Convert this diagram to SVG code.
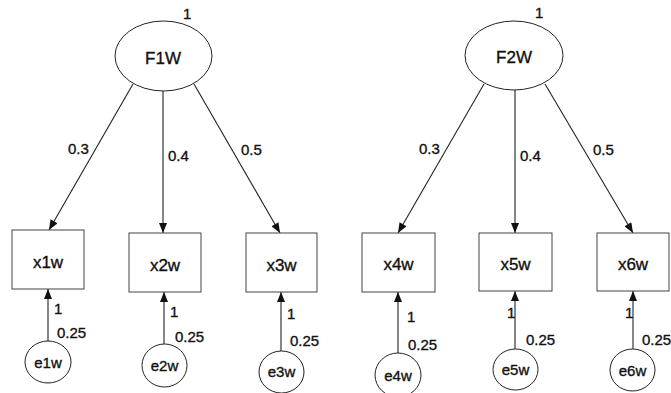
<svg xmlns="http://www.w3.org/2000/svg" width="671" height="393" viewBox="0 0 671 393">
<style>
.n{fill:#fff;stroke:#222;stroke-width:1}
.b{fill:#fff;stroke:#444;stroke-width:1}
.c line{stroke:#222;stroke-width:1.1}
text{font-family:"Liberation Sans",Arial,sans-serif;fill:#111;stroke:#111;stroke-width:0.35}
.lat{font-size:17px;text-anchor:middle}
.obs{font-size:17px;text-anchor:middle}
.err{font-size:15px;text-anchor:middle}
.lab{font-size:15px}
</style>
<defs>
<marker id="ah" viewBox="0 0 10 8" refX="10" refY="4" markerWidth="11" markerHeight="8" markerUnits="userSpaceOnUse" orient="auto">
<path d="M0,0 L10,4 L0,8 Z" fill="#111"/>
</marker>
</defs>
<g class="c" id="connectors">
<line x1="133" y1="84" x2="49" y2="230" marker-end="url(#ah)"/>
<line x1="163" y1="91" x2="163" y2="233" marker-end="url(#ah)"/>
<line x1="194" y1="84" x2="280" y2="233" marker-end="url(#ah)"/>
<line x1="484" y1="84" x2="398" y2="233" marker-end="url(#ah)"/>
<line x1="515" y1="90" x2="515" y2="233" marker-end="url(#ah)"/>
<line x1="545" y1="84" x2="633" y2="233" marker-end="url(#ah)"/>
<line x1="48" y1="341" x2="48" y2="289" marker-end="url(#ah)"/>
<line x1="164" y1="344" x2="164" y2="292" marker-end="url(#ah)"/>
<line x1="281" y1="351" x2="281" y2="292" marker-end="url(#ah)"/>
<line x1="398" y1="353" x2="398" y2="292" marker-end="url(#ah)"/>
<line x1="515" y1="349" x2="515" y2="291" marker-end="url(#ah)"/>
<line x1="633" y1="349" x2="633" y2="291" marker-end="url(#ah)"/>
</g>
<g id="labels" class="lab">
<text x="183" y="19">1</text>
<text x="535" y="18">1</text>
<text x="68" y="154">0.3</text>
<text x="168" y="161">0.4</text>
<text x="241" y="155">0.5</text>
<text x="419" y="154">0.3</text>
<text x="520" y="161">0.4</text>
<text x="593" y="155">0.5</text>
<text x="54" y="314">1</text><text x="57" y="338">0.25</text>
<text x="170" y="317">1</text><text x="175" y="342">0.25</text>
<text x="287" y="319">1</text><text x="290" y="346">0.25</text>
<text x="407" y="322">1</text><text x="408" y="350">0.25</text>
<text x="507" y="318">1</text><text x="526" y="345">0.25</text>
<text x="625" y="318">1</text><text x="642" y="345">0.25</text>
</g>
<g id="F1W"><ellipse class="n" cx="163.5" cy="56" rx="48.5" ry="35"/><text class="lat" x="163" y="64">F1W</text></g>
<g id="F2W"><ellipse class="n" cx="514" cy="55.5" rx="49" ry="34.5"/><text class="lat" x="514" y="63">F2W</text></g>
<g id="x1w"><rect class="b" x="12" y="230" width="72" height="59"/><text class="obs" x="48" y="268">x1w</text></g>
<g id="x2w"><rect class="b" x="129" y="233" width="72" height="59"/><text class="obs" x="165" y="271">x2w</text></g>
<g id="x3w"><rect class="b" x="246" y="233" width="71" height="59"/><text class="obs" x="281.5" y="271">x3w</text></g>
<g id="x4w"><rect class="b" x="362" y="233" width="73" height="59"/><text class="obs" x="398.5" y="270">x4w</text></g>
<g id="x5w"><rect class="b" x="479" y="233" width="73" height="58"/><text class="obs" x="515.5" y="270">x5w</text></g>
<g id="x6w"><rect class="b" x="597" y="233" width="72" height="58"/><text class="obs" x="633" y="270">x6w</text></g>
<g id="e1w"><ellipse class="n" cx="48" cy="362" rx="23" ry="21"/><text class="err" x="48" y="368">e1w</text></g>
<g id="e2w"><ellipse class="n" cx="164.5" cy="365.5" rx="22.5" ry="21.5"/><text class="err" x="164.5" y="371">e2w</text></g>
<g id="e3w"><ellipse class="n" cx="281.5" cy="372" rx="22.5" ry="21"/><text class="err" x="281.5" y="377">e3w</text></g>
<g id="e4w"><ellipse class="n" cx="398" cy="375" rx="23" ry="22"/><text class="err" x="398" y="381">e4w</text></g>
<g id="e5w"><ellipse class="n" cx="515.5" cy="369.5" rx="22.5" ry="20.5"/><text class="err" x="515.5" y="375">e5w</text></g>
<g id="e6w"><ellipse class="n" cx="632.5" cy="370" rx="22.5" ry="21"/><text class="err" x="632.5" y="376">e6w</text></g>
</svg>
